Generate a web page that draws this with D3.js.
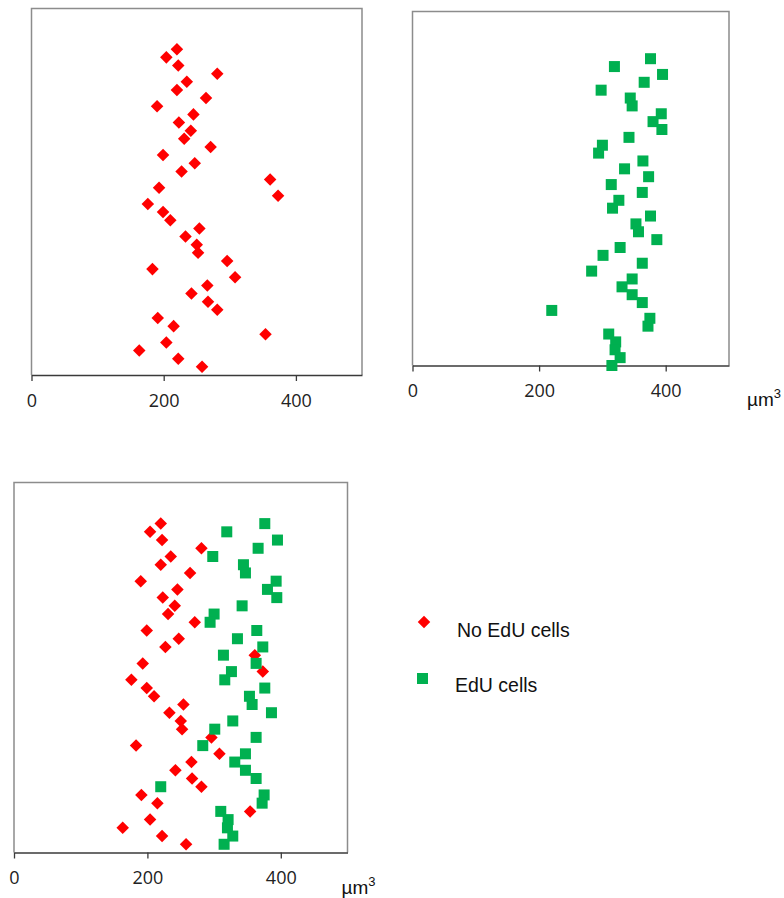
<!DOCTYPE html>
<html>
<head>
<meta charset="utf-8">
<script src="https://cdn.jsdelivr.net/npm/d3@7"></script>
<style>
  body { margin: 0; background: #fff; }
  svg { display: block; }
</style>
</head>
<body>
<div id="chart"></div>
<script>
// cell volumes (µm3), read from top row to bottom row of each panel
const noEdu = [220, 204, 222, 281, 235, 220, 264, 190, 245, 223,
               241, 231, 271, 199, 247, 227, 361, 193, 373, 176,
               199, 210, 254, 233, 250, 252, 296, 183, 308, 266,
               242, 267, 281, 191, 215, 354, 204, 163, 222, 258];
const edu = [376, 319, 395, 366, 298, 344, 347, 393, 380, 394,
             342, 300, 294, 364, 335, 373, 314, 363, 326, 316,
             376, 353, 357, 386, 328, 301, 363, 283, 347, 331,
             347, 363, 220, 375, 372, 310, 321, 320, 328, 315];
const xTicks = [0, 200, 400];
const legendLabels = ["No EdU cells", "EdU cells"];

const W = 784, H = 898;
const RED = "#ff0000", GREEN = "#00b050";

const svg = d3.select("#chart").append("svg")
    .attr("width", W)
    .attr("height", H);

// panel boxes
const panels = [
    { left: 31.5, right: 362, top: 8.5, bottom: 375, yDom: [0, 45], series: ["red"], unit: null },
    { left: 412.5, right: 729, top: 11.5, bottom: 365.5, yDom: [1, 46], series: ["green"], unit: [747, 405.5] },
    { left: 14, right: 347.5, top: 482.5, bottom: 852.5, yDom: [0, 45], series: ["red", "green"], unit: [341.5, 893.5] }
];

const diamond = d3.symbol().type(d3.symbolDiamond2).size(100);

panels.forEach(p => {
    const x = d3.scaleLinear().domain([0, 500]).range([p.left, p.right]);
    const y = d3.scaleLinear().domain(p.yDom).range([p.bottom, p.top]);

    const g = svg.append("g");

    // frame (top, left, right)
    g.append("path")
        .attr("d", `M${p.left},${p.bottom}V${p.top}H${p.right}V${p.bottom}`)
        .attr("fill", "none")
        .attr("stroke", "#8c8c8c")
        .attr("stroke-width", 1.5);

    // x axis
    const axis = g.append("g")
        .attr("transform", `translate(0,${p.bottom})`)
        .call(d3.axisBottom(x).tickValues(xTicks).tickSize(6).tickSizeOuter(0).tickPadding(13));
    axis.select(".domain").attr("stroke", "#3a3a3a").attr("stroke-width", 1.5);
    axis.selectAll(".tick line").attr("stroke", "#3a3a3a").attr("stroke-width", 1.3);
    axis.selectAll(".tick text")
        .attr("font-family", "'Open Sans', sans-serif")
        .attr("font-size", 18)
        .attr("fill", "#222");

    if (p.series.includes("red")) {
        g.selectAll(".red").data(noEdu).enter().append("path")
            .attr("class", "red")
            .attr("d", diamond)
            .attr("transform", (d, i) => `translate(${x(d)},${y(40 - i)})`)
            .attr("fill", RED);
    }
    if (p.series.includes("green")) {
        const s = 11;
        g.selectAll(".green").data(edu).enter().append("rect")
            .attr("class", "green")
            .attr("x", d => x(d) - s / 2)
            .attr("y", (d, i) => y(40 - i) - s / 2)
            .attr("width", s)
            .attr("height", s)
            .attr("fill", GREEN);
    }

    if (p.unit) {
        const t = svg.append("text")
            .attr("x", p.unit[0])
            .attr("y", p.unit[1])
            .attr("font-family", "'Liberation Sans', Arial, sans-serif")
            .attr("font-size", 19)
            .attr("fill", "#111");
        t.append("tspan").text("µm");
        t.append("tspan").attr("font-size", 13).attr("dy", -8).text("3");
    }
});

// legend
const legend = svg.append("g").attr("font-family", "'Liberation Sans', Arial, sans-serif");
legend.append("path")
    .attr("d", diamond)
    .attr("transform", "translate(424,622)")
    .attr("fill", RED);
legend.append("rect")
    .attr("x", 417).attr("y", 673).attr("width", 11).attr("height", 11)
    .attr("fill", GREEN);
legend.append("text")
    .attr("x", 457).attr("y", 636.5)
    .attr("font-size", 19.5).attr("fill", "#111")
    .text(legendLabels[0]);
legend.append("text")
    .attr("x", 455).attr("y", 692)
    .attr("font-size", 19.5).attr("fill", "#111")
    .text(legendLabels[1]);
</script>
</body>
</html>
